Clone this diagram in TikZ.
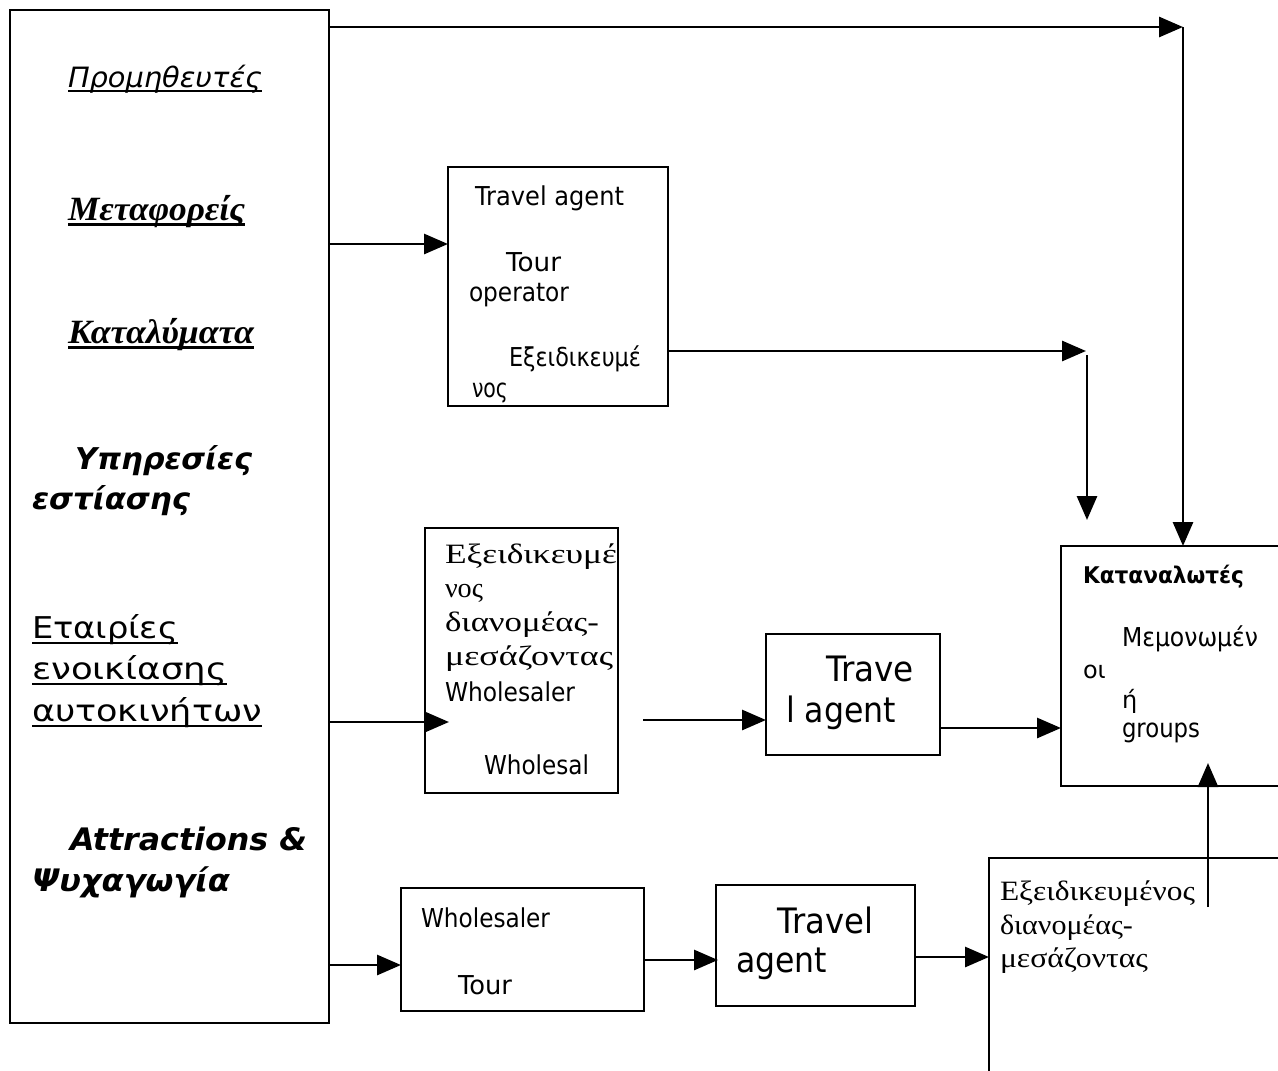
\documentclass[tikz,border=0pt]{standalone}
\usepackage{fontspec}
\usepackage{graphicx}
\usetikzlibrary{arrows.meta}
\setmainfont{Liberation Serif}
\newfontfamily\vsans{DejaVu Sans}

% font size in pt, leading equal to size
\newcommand\fs[1]{\fontsize{#1pt}{#1pt}\selectfont}
% set a text and stretch it horizontally to a given width (pt)
\newsavebox\fitbox
\newcommand\fitw[2]{\sbox\fitbox{#2}\pgfmathsetmacro\fitfac{#1/\the\wd\fitbox}\scalebox{\fitfac}[1]{\usebox\fitbox}}
% underline with given thickness and depth
\newsavebox\ulsb
\newcommand\ulx[3]{\sbox\ulsb{#3}\rlap{\rule[-#2]{\wd\ulsb}{#1}}\usebox\ulsb}

\begin{document}
\begin{tikzpicture}[x=1pt,y=-1pt,
  box/.style={draw, line width=2.6pt, inner sep=0pt, outer sep=0pt},
  txt/.style={anchor=base west, inner sep=0pt, outer sep=0pt},
  arr/.style={line width=2.9pt, -{Triangle[length=24pt,width=20pt]}}]

\clip (0,0) rectangle (1278,1071);
\fill[white] (0,0) rectangle (1278,1071);

% ---------- boxes ----------
\node[box, minimum width=319pt, minimum height=1013pt] (src) at (169.5,516.5) {};
\node[box, minimum width=220pt, minimum height=239pt]  (A)   at (558,286.5) {};
\node[box, minimum width=193pt, minimum height=265pt]  (B)   at (521.5,660.5) {};
\node[box, minimum width=174pt, minimum height=121pt]  (C)   at (853,694.5) {};
\node[box, minimum width=239pt, minimum height=240pt]  (D)   at (1180.5,666) {};
\node[box, minimum width=243pt, minimum height=123pt]  (E)   at (522.5,949.5) {};
\node[box, minimum width=199pt, minimum height=121pt]  (F)   at (815.5,945.5) {};
\node[box, minimum width=311pt, minimum height=242pt]  (G)   at (1144.5,979) {};

% ---------- texts of the source box ----------
\node[txt] (s1) at (68,87)  {\fitw{194}{\ulx{1.8pt}{5pt}{\vsans\itshape\fs{28}Προμηθευτές}}};
\node[txt] (s2) at (68,220) {\fitw{177}{\ulx{3pt}{6pt}{\bfseries\itshape\fs{34}Μεταφορείς}}};
\node[txt] (s3) at (68,343) {\fitw{186}{\ulx{3pt}{6pt}{\bfseries\itshape\fs{34}Καταλύματα}}};
\node[txt] (s4) at (75,469) {\fitw{177}{\vsans\bfseries\itshape\fs{30}Υπηρεσίες}};
\node[txt] (s5) at (32,509) {\fitw{158}{\vsans\bfseries\itshape\fs{30}εστίασης}};
\node[txt] (s6) at (32,638) {\fitw{146}{\ulx{2.4pt}{6pt}{\vsans\fs{30}Εταιρίες}}};
\node[txt] (s7) at (32,679) {\fitw{195}{\ulx{2.4pt}{6pt}{\vsans\fs{30}ενοικίασης}}};
\node[txt] (s8) at (32,721) {\fitw{230}{\ulx{2.4pt}{6pt}{\vsans\fs{30}αυτοκινήτων}}};
\node[txt] (s9) at (70,850) {\fitw{237}{\vsans\bfseries\itshape\fs{31}Attractions \&}};
\node[txt] (s10) at (32,891) {\fitw{198}{\vsans\bfseries\itshape\fs{31}Ψυχαγωγία}};

% ---------- box A ----------
\node[txt] (a1) at (475,205) {\fitw{149}{\vsans\fs{26}Travel agent}};
\node[txt] (a2) at (506,271) {\fitw{55}{\vsans\fs{26}Tour}};
\node[txt] (a3) at (469,301) {\fitw{100}{\vsans\fs{26}operator}};
\node[txt] (a4) at (509,366) {\fitw{132}{\vsans\fs{26}Εξειδικευμέ}};
\node[txt] (a5) at (472,397) {\fitw{36}{\vsans\fs{26}νος}};

% ---------- box B ----------
\node[txt] (b1) at (445,563) {\fitw{172}{\fs{28}Εξειδικευμέ}};
\node[txt] (b2) at (445,597) {\fitw{38}{\fs{28}νος}};
\node[txt] (b3) at (445,631) {\fitw{154}{\fs{28}διανομέας-}};
\node[txt] (b4) at (445,665) {\fitw{168}{\fs{28}μεσάζοντας}};
\node[txt] (b5) at (445,701) {\fitw{130}{\vsans\fs{26}Wholesaler}};
\node[txt] (b6) at (484,774) {\fitw{105}{\vsans\fs{26}Wholesal}};

% ---------- box C ----------
\node[txt] (c1) at (826,681) {\fitw{88}{\vsans\fs{35}Trave}};
\node[txt] (c2) at (786,722) {\fitw{110}{\vsans\fs{35}l agent}};

% ---------- box D ----------
\node[txt] (d1) at (1083,583) {\fitw{161}{\vsans\bfseries\fs{23}Καταναλωτές}};
\node[txt] (d2) at (1122,646) {\fitw{136}{\vsans\fs{26}Μεμονωμέν}};
\node[txt] (d3) at (1083,678) {\vsans\fs{24}οι};
\node[txt] (d4) at (1122,708) {\vsans\fs{24}ή};
\node[txt] (d5) at (1122,737) {\fitw{78}{\vsans\fs{26}groups}};

% ---------- box E ----------
\node[txt] (e1) at (421,927) {\fitw{129}{\vsans\fs{26}Wholesaler}};
\node[txt] (e2) at (458,994) {\fitw{54}{\vsans\fs{26}Tour}};

% ---------- box F ----------
\node[txt] (f1) at (777,933) {\fitw{96}{\vsans\fs{35}Travel}};
\node[txt] (f2) at (736,972) {\fitw{91}{\vsans\fs{35}agent}};

% ---------- box G ----------
\node[txt] (g1) at (1000,900) {\fitw{195}{\fs{28}Εξειδικευμένος}};
\node[txt] (g2) at (1000,934) {\fitw{133}{\fs{28}διανομέας-}};
\node[txt] (g3) at (1000,967) {\fitw{148}{\fs{28}μεσάζοντας}};

% ---------- connectors ----------
\coordinate (top)  at (1183,27);
\coordinate (y244) at (0,244);
\coordinate (k1)   at (1086,351);
\coordinate (k1b)  at (1087,355);
\coordinate (k2)   at (1087,520);
\coordinate (bIn)  at (449,722);
\coordinate (m0)   at (643,720);
\coordinate (y728) at (0,728);
\coordinate (y965) at (0,965);
\coordinate (y960) at (0,960);
\coordinate (fIn)  at (718,960);
\coordinate (y957) at (0,957);
\coordinate (g0)   at (1208,907);
\coordinate (dIn)  at (1208,763);

\draw[arr] (src.east |- top) -- (top);
\draw[arr] (top) -- (top |- D.north);
\draw[arr] (src.east |- y244) -- (A.west |- y244);
\draw[arr] (A.east |- k1) -- (k1);
\draw[arr] (k1b) -- (k2);
\draw[arr] (src.east |- bIn) -- (bIn);
\draw[arr] (m0) -- (C.west |- m0);
\draw[arr] (C.east |- y728) -- (D.west |- y728);
\draw[arr] (src.east |- y965) -- (E.west |- y965);
\draw[arr] (E.east |- y960) -- (fIn);
\draw[arr] (F.east |- y957) -- (G.west |- y957);
\draw[arr] (g0) -- (dIn);
\end{tikzpicture}
\end{document}
